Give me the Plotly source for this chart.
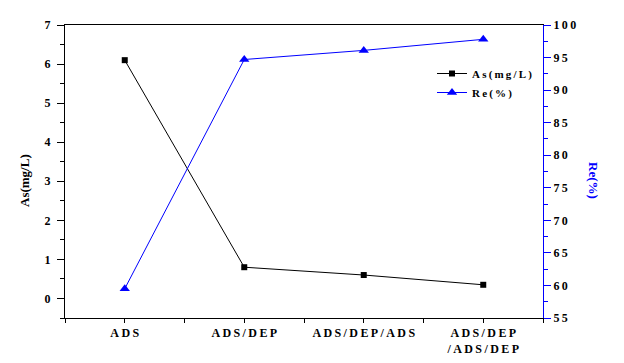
import plotly.graph_objects as go

categories = ["ADS", "ADS/DEP", "ADS/DEP/ADS", "ADS/DEP<br>/ADS/DEP"]
as_values = [6.1, 0.8, 0.6, 0.35]
re_values = [59.5, 94.7, 96.1, 97.8]
left_ticks = [0, 1, 2, 3, 4, 5, 6, 7]
right_ticks = [55, 60, 65, 70, 75, 80, 85, 90, 95, 100]

def spaced(s, sep="\u2009"):
    out = []
    for part in s.split("<br>"):
        out.append(sep.join(part))
    return "<br>".join(out)

x = list(range(len(categories)))
FAM = "Liberation Serif"
OFF = 8  # page body margin offset
W, H = 616, 355
L, T = 65 - OFF, 25 - OFF
pw, ph = 478, 293
R = W - L - pw
B = H - T - ph

def px(sx):
    return (sx - OFF - L) / pw

def py(sy):
    return (T + ph - (sy - OFF)) / ph

fig = go.Figure()
fig.add_trace(go.Scatter(x=x, y=as_values, mode="lines+markers", name="<b>" + spaced("As(mg/L)") + "</b>",
                         line=dict(color="black", width=1),
                         marker=dict(symbol="square", size=6, color="black")))
fig.add_trace(go.Scatter(x=x, y=re_values, mode="lines+markers", name="<b>" + spaced("Re(%)") + "</b>",
                         yaxis="y2", line=dict(color="blue", width=1),
                         marker=dict(symbol="triangle-up", size=9, color="blue")))

fig.update_layout(
    width=W, height=H,
    margin=dict(l=L, r=R, t=T, b=B, autoexpand=False),
    paper_bgcolor="white", plot_bgcolor="white",
    font=dict(family=FAM, size=11, color="black"),
    showlegend=True,
    legend=dict(x=px(432), y=py(59), xanchor="left", yanchor="top",
                bgcolor="rgba(0,0,0,0)", font=dict(family=FAM, size=11, color="black"),
                tracegroupgap=0, itemwidth=30),
    xaxis=dict(range=[-0.5, 3.5], tickvals=x, ticktext=[f"<b>{spaced(c)}</b>" for c in categories],
               showgrid=False, zeroline=False, showline=True, linecolor="black", linewidth=1,
               mirror=True, ticks="outside", ticklen=4, tickcolor="black", automargin=False,
               minor=dict(dtick=0.5, tick0=-0.5, ticks="outside", ticklen=4, tickcolor="black", showgrid=False),
               tickfont=dict(family=FAM, size=12, color="black")),
    yaxis=dict(range=[-0.5, 7], tickvals=left_ticks, ticktext=[f"<b>{t}</b>" for t in left_ticks],
               showgrid=False, zeroline=False, showline=True, linecolor="black", linewidth=1,
               ticks="outside", ticklen=7, tickcolor="black", automargin=False, ticklabelstandoff=4,
               minor=dict(dtick=0.5, tick0=0, ticks="outside", ticklen=4, tickcolor="black", showgrid=False),
               tickfont=dict(family=FAM, size=12, color="black")),
    yaxis2=dict(range=[55, 100], overlaying="y", side="right", tickvals=right_ticks,
                ticktext=[f"<b>{spaced(str(t))}</b>" for t in right_ticks],
                showgrid=False, zeroline=False, showline=True, linecolor="blue", linewidth=1,
                ticks="outside", ticklen=7, tickcolor="blue", automargin=False,
                minor=dict(dtick=2.5, tick0=55, ticks="outside", ticklen=4, tickcolor="blue", showgrid=False),
                tickfont=dict(family=FAM, size=12, color="black")),
    annotations=[
        dict(text="<b>Re(%)</b>", textangle=90, x=px(594), y=py(180), xref="paper", yref="paper",
             xanchor="center", yanchor="middle",
             showarrow=False, font=dict(family=FAM, size=13, color="blue")),
        dict(text="<b>As(mg/L)</b>", textangle=-90, x=px(25), y=py(181), xref="paper", yref="paper",
             xanchor="center", yanchor="middle",
             showarrow=False, font=dict(family=FAM, size=13, color="black")),
    ],
)
fig.write_html("out.html")
